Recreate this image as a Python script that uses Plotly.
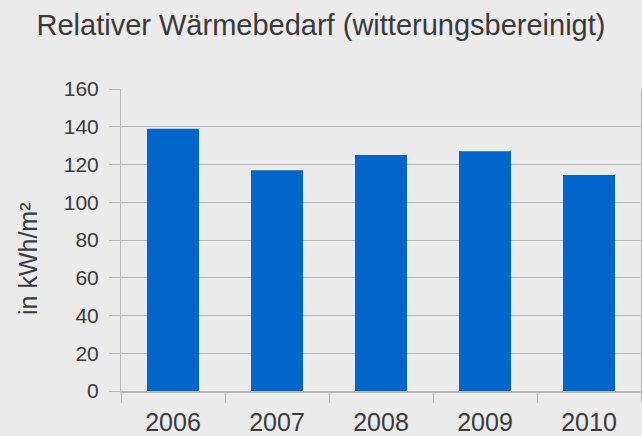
import plotly.graph_objects as go

years = ["2006", "2007", "2008", "2009", "2010"]
values = [139, 117, 125, 127, 114.5]
y_ticks = [0, 20, 40, 60, 80, 100, 120, 140, 160]

TXT = "#3a3a3a"
GRID = "#b8b8b8"
BG = "#ebebeb"
FONT = "Liberation Sans, Arial, sans-serif"

fig = go.Figure(go.Bar(x=years, y=values, marker_color="#0066cc",
                       marker_line_width=0, width=0.5))

fig.update_layout(
    width=642, height=436,
    paper_bgcolor=BG, plot_bgcolor=BG,
    margin=dict(l=121, r=1, t=89, b=45),
    font=dict(family=FONT, color=TXT),
    title=dict(text="Relativer Wärmebedarf (witterungsbereinigt)",
               x=0.5, xanchor="center", y=1 - 25 / 436, yanchor="middle",
               yref="container", font=dict(size=29, color=TXT, family=FONT)),
    showlegend=False,
)
fig.update_xaxes(type="category", ticks="outside", tickson="boundaries",
                 ticklen=10, tickcolor=GRID, tickwidth=1,
                 showline=True, linecolor=GRID, linewidth=1.5,
                 showgrid=False, tickfont=dict(size=25, color=TXT),
                 ticklabelstandoff=8, automargin=False)
fig.update_yaxes(range=[0, 160], tickvals=y_ticks, ticks="outside", ticklen=11,
                 tickcolor=GRID, showgrid=True, gridcolor=GRID, gridwidth=1,
                 showline=True, linecolor=GRID, linewidth=1, mirror=True,
                 zeroline=False, tickfont=dict(size=21, color=TXT),
                 ticklabelstandoff=6, automargin=False)
fig.add_annotation(text="in kWh/m²", textangle=-90, xref="paper", yref="paper",
                   x=(28 - 121) / 520, y=(391 - 259) / 302, xanchor="center",
                   yanchor="middle", showarrow=False,
                   font=dict(size=25, color=TXT, family=FONT))

fig.write_html("out.html", config={"displayModeBar": False},
               post_script="document.body.style.margin='0';"
                           "document.body.style.background='#ebebeb';")
